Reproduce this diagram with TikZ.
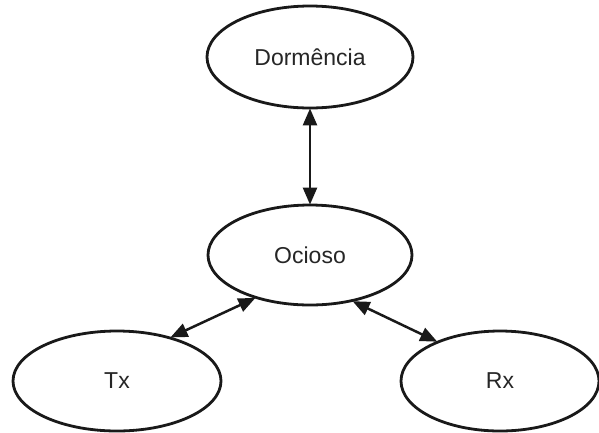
\documentclass[tikz,border=0pt]{standalone}
\usepackage{fontspec}
\setmainfont{Liberation Sans}
\usetikzlibrary{shapes.geometric,arrows.meta}
\begin{document}
\begin{tikzpicture}[x=1pt,y=-1pt,
  state/.style={draw=black!90,line width=2.8pt,ellipse,inner sep=0pt,fill=white,
    font=\fontsize{23}{27}\selectfont,text=black!85},
  link/.style={line width=2.5pt,black!90,{Triangle[length=17pt,width=14pt]}-{Triangle[length=17pt,width=14pt]},shorten <=-1pt,shorten >=-1pt}]
\useasboundingbox (0,0) rectangle (599,432);
\node[state,minimum width=206pt,minimum height=102pt] (dorm) at (310,57) {Dormência};
\node[state,minimum width=204pt,minimum height=100pt] (ocioso) at (310,255) {Ocioso};
\node[state,minimum width=208pt,minimum height=100pt] (tx) at (117,381) {Tx};
\node[state,minimum width=198pt,minimum height=100pt] (rx) at (500,381) {Rx};
\draw[link] (dorm.south) -- (ocioso.north);
\draw[link] (ocioso.218) -- (tx.39);
\draw[link] (ocioso.313) -- (rx.148);
\end{tikzpicture}
\end{document}
